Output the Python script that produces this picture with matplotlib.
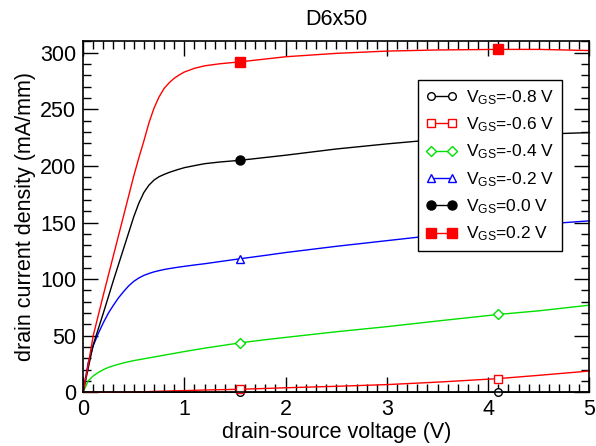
import numpy as np
import matplotlib
matplotlib.use('Agg')
import matplotlib.pyplot as plt

plt.rcParams['font.family'] = ['Liberation Sans', 'DejaVu Sans']
plt.rcParams['mathtext.default'] = 'regular'

# drain-source voltage (V), shared by all curves
vds = [0, 0.05, 0.1, 0.15, 0.2, 0.25, 0.3, 0.35, 0.4, 0.45, 0.5, 0.55, 0.6,
       0.65, 0.7, 0.75, 0.8, 0.85, 0.9, 0.95, 1.0, 1.1, 1.2, 1.35, 1.55, 1.8,
       2.0, 2.5, 3.0, 3.5, 4.1, 4.5, 5.0]

# drain current density (mA/mm) per gate voltage
id_m08 = [0, 0, 0, 0, 0, 0, 0, 0, 0, 0, 0, 0, 0,
          0, 0, 0, 0, 0, 0, 0, 0, 0, 0, 0, 0, 0,
          0, 0, 0, 0, 0, 0, 0.2]
id_m06 = [0, 0, 0, 0, 0, 0, 0, 0.05, 0.1, 0.15, 0.3, 0.4, 0.5,
          0.65, 0.8, 0.95, 1.05, 1.15, 1.3, 1.4, 1.5, 1.75, 2.0, 2.3, 2.7, 3.4,
          4.0, 5.3, 6.8, 9.0, 12.1, 15.0, 18.8]
id_m04 = [0, 10, 14.5, 17.5, 20, 22, 23.5, 24.8, 26, 27, 28, 28.8, 29.6,
          30.4, 31.2, 32, 32.8, 33.6, 34.4, 35.2, 36, 37.5, 39, 41, 43.7, 46.5,
          48.5, 53.5, 58, 63, 68.8, 72, 77]
id_m02 = [0, 26, 41, 52, 61.5, 70, 77, 83.5, 89, 94, 98, 101, 103.3,
          105, 106.4, 107.5, 108.5, 109.3, 110, 110.7, 111.3, 112.5, 113.6,
          115.5, 118, 121, 123.5, 129, 134, 139, 144.5, 148.3, 151.5]
id_00 = [0, 21, 42, 56, 70, 84.5, 99, 113, 127, 141, 155, 167, 176.5,
         183, 187.5, 190.5, 192.5, 194.3, 195.8, 197.2, 198.5, 200.3, 202,
         203.5, 205, 207.5, 209.5, 215, 219.5, 223.5, 226.5, 228, 229.5]
id_02 = [0, 24, 50, 68, 86, 103.5, 121, 138.5, 156, 173.5, 191, 207, 222,
         238, 251, 261, 268.5, 273.5, 277.5, 280.5, 283, 286.3, 288.5,
         290.3, 292, 294.5, 296.5, 299.5, 301.5, 302.5, 303, 303, 302]

labels = ['-0.8', '-0.6', '-0.4', '-0.2', '0.0', '0.2']
colors = ['black', 'red', '#00e000', 'blue', 'black', 'red']
markers = ['o', 's', 'D', '^', 'o', 's']
filled = [False, False, False, False, True, True]
msizes = [5.5, 5.5, 5, 6, 6.5, 6.5]
series = [id_m08, id_m06, id_m04, id_m02, id_00, id_02]

# markers sit at 1.55 V and 4.1 V
mark_idx = [vds.index(1.55), vds.index(4.1)]

fig = plt.figure(figsize=(5.96, 4.46), dpi=100)
ax = fig.add_axes([0.1394, 0.1204, 0.8496, 0.7866])

for ys, c, m, f, ms, lab in zip(series, colors, markers, filled, msizes, labels):
    ax.plot(vds, ys, color=c, lw=1.0, marker=m, ms=ms, markevery=mark_idx,
            markerfacecolor=c if f else 'white', markeredgecolor=c,
            markeredgewidth=1.0, clip_on=False,
            label=r'V$_{\mathregular{GS}}$=' + lab + ' V')

ax.set_xlim(0, 5)
ax.set_ylim(0, 310)
ax.set_xticks(np.arange(0, 6, 1))
ax.set_yticks(np.arange(0, 301, 50))
ax.set_xticks(np.arange(0, 5.01, 0.1), minor=True)
ax.set_yticks(np.arange(0, 311, 10), minor=True)
ax.tick_params(which='both', direction='in', top=True, right=True,
               labelsize=15.5, width=1.0, pad=5)
ax.tick_params(which='major', length=11)
ax.tick_params(which='minor', length=6)
for sp in ax.spines.values():
    sp.set_linewidth(1.2)

ax.set_xlabel('drain-source voltage (V)', fontsize=15.5, labelpad=1)
ax.set_ylabel('drain current density (mA/mm)', fontsize=15.5, labelpad=3)
ax.set_title('D6x50', fontsize=15.5, pad=12)

leg = ax.legend(loc='upper right', bbox_to_anchor=(0.9455, 0.89),
                borderaxespad=0, fontsize=12.5, numpoints=2, handlelength=1.8,
                fancybox=False, framealpha=1, edgecolor='black',
                labelspacing=0.5, borderpad=0.45, handletextpad=0.5)
leg.get_frame().set_linewidth(1.0)

fig.savefig('out.png', dpi=100)
